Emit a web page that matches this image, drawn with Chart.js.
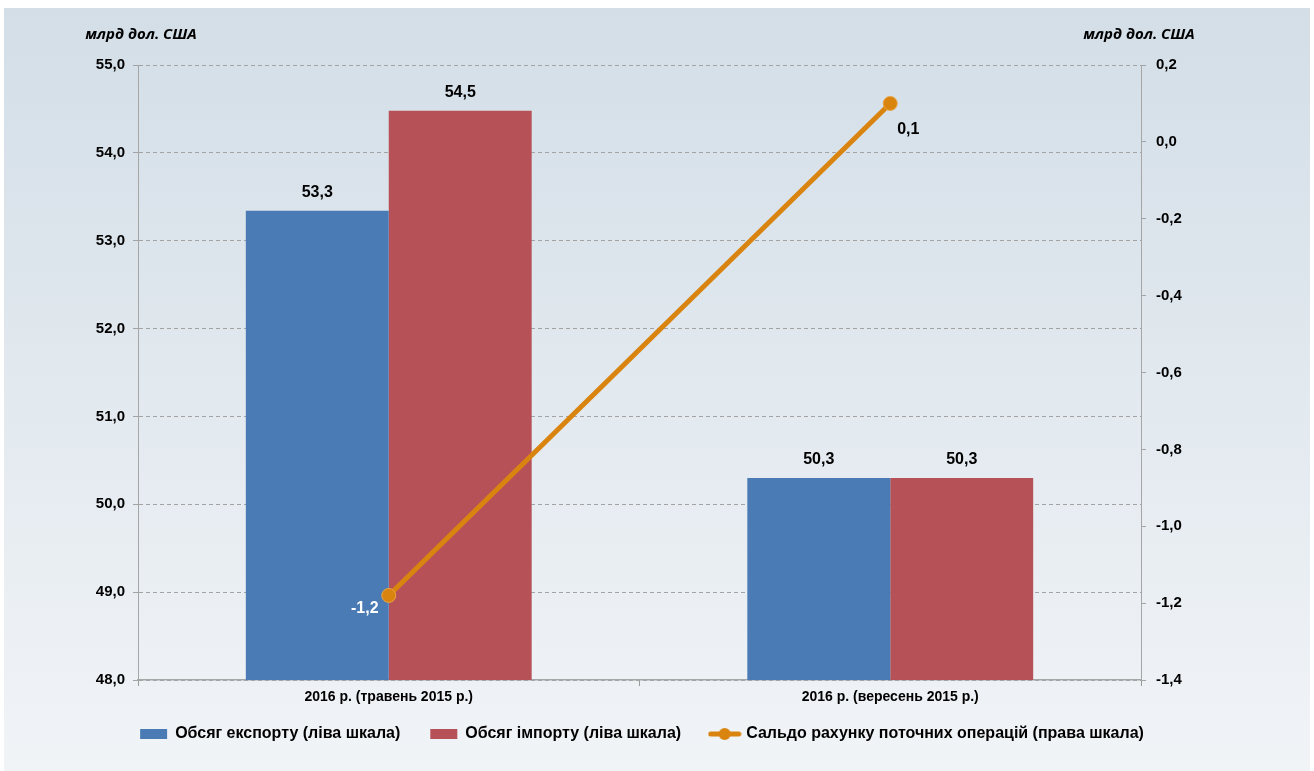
<!DOCTYPE html>
<html>
<head>
<meta charset="utf-8">
<script src="https://cdn.jsdelivr.net/npm/chart.js@4"></script>
<style>
  body { margin: 0; background: #fff; }
  #wrap { width: 1314px; height: 771px; }
</style>
</head>
<body>
<div id="wrap"><canvas id="myChart" width="1314" height="771"></canvas></div>
<script>
// Дані діаграми
const categories = ["2016 р. (травень 2015 р.)", "2016 р. (вересень 2015 р.)"];
const exportValues = [53.34, 50.3];
const importValues = [54.48, 50.3];
const balanceValues = [-1.18, 0.1];
const seriesNames = [
  "Обсяг експорту (ліва шкала)",
  "Обсяг імпорту (ліва шкала)",
  "Сальдо рахунку поточних операцій (права шкала)",
];
const axisUnit = "млрд дол. США";

const FONT = "'Liberation Sans Narrow', 'Liberation Sans', Arial, sans-serif";
const blue = "#4a7bb5";
const red = "#b65157";
const orange = "#da8410";

const fmt = (v) => v.toFixed(1).replace(".", ",");

// маркер лінії для легенди
const lineMarker = document.createElement("canvas");
lineMarker.width = 34;
lineMarker.height = 14;
(function () {
  const c = lineMarker.getContext("2d");
  c.strokeStyle = orange;
  c.lineWidth = 5;
  c.lineCap = "round";
  c.beginPath();
  c.moveTo(3, 7);
  c.lineTo(31, 7);
  c.stroke();
  c.fillStyle = orange;
  c.beginPath();
  c.arc(17, 7, 6, 0, Math.PI * 2);
  c.fill();
})();

const background = {
  id: "background",
  beforeDraw(chart) {
    const c = chart.ctx;
    c.save();
    c.fillStyle = "#fff";
    c.fillRect(0, 0, chart.width, chart.height);
    const g = c.createLinearGradient(0, 8, 0, chart.height);
    g.addColorStop(0, "#d3dee7");
    g.addColorStop(1, "#f1f4f7");
    c.fillStyle = g;
    c.fillRect(4, 8, chart.width - 8, chart.height - 8);
    c.restore();
  },
};

const labelsPlugin = {
  id: "labelsPlugin",
  afterDatasetsDraw(chart) {
    const c = chart.ctx;
    c.save();
    c.font = "bold 16px " + FONT;
    c.textAlign = "center";
    c.textBaseline = "middle";
    // підписи над стовпцями
    [0, 1].forEach((di) => {
      const ds = chart.data.datasets[di];
      chart.getDatasetMeta(di).data.forEach((el, i) => {
        c.fillStyle = "#000";
        c.fillText(fmt(ds.data[i]), el.x, el.y - 18);
      });
    });
    // підписи лінії
    const lineMeta = chart.getDatasetMeta(2).data;
    const p0 = lineMeta[0], p1 = lineMeta[1];
    c.fillStyle = "#fff";
    c.fillText(fmt(balanceValues[0]), p0.x - 24, p0.y + 13);
    c.fillStyle = "#000";
    c.fillText(fmt(balanceValues[1]), p1.x + 18, p1.y + 26);
    // одиниці виміру
    c.font = "italic bold 15px 'Open Sans', " + FONT;
    c.fillText(axisUnit, chart.scales.y.right + 3, 35);
    c.fillText(axisUnit, chart.scales.y1.left - 2, 35);
    c.restore();
  },
};

const ctx = document.getElementById("myChart").getContext("2d");

const myChart = new Chart(ctx, {
  data: {
    labels: categories,
    datasets: [
      {
        type: "bar",
        label: seriesNames[0],
        data: exportValues,
        backgroundColor: blue,
        yAxisID: "y",
        order: 1,
        categoryPercentage: 0.57,
        barPercentage: 1,
      },
      {
        type: "bar",
        label: seriesNames[1],
        data: importValues,
        backgroundColor: red,
        yAxisID: "y",
        order: 1,
        categoryPercentage: 0.57,
        barPercentage: 1,
      },
      {
        type: "line",
        label: seriesNames[2],
        data: balanceValues,
        borderColor: orange,
        backgroundColor: orange,
        borderWidth: 5,
        pointRadius: 7,
        pointBackgroundColor: orange,
        pointBorderColor: "#e9a443",
        pointBorderWidth: 1,
        yAxisID: "y1",
        order: 0,
      },
    ],
  },
  options: {
    responsive: false,
    animation: false,
    layout: {
      padding: { top: 65, left: 0, right: 30, bottom: 19 },
    },
    plugins: {
      tooltip: { enabled: false },
      legend: {
        position: "bottom",
        labels: {
          color: "#000",
          font: { size: 16, weight: "bold", family: FONT },
          usePointStyle: true,
          pointStyleWidth: 27,
          boxHeight: 10,
          padding: 30,
          generateLabels(chart) {
            return chart.data.datasets.map((ds, i) => ({
              text: ds.label,
              fillStyle: i < 2 ? ds.backgroundColor : orange,
              strokeStyle: i < 2 ? ds.backgroundColor : orange,
              lineWidth: 0,
              pointStyle: i < 2 ? "rect" : lineMarker,
              datasetIndex: i,
              fontColor: "#000",
            }));
          },
        },
      },
    },
    scales: {
      x: {
        offset: true,
        grid: {
          offset: true,
          drawOnChartArea: false,
          color: "#999",
          tickLength: 6,
        },
        border: { color: "#a6a6a6", width: 1.5 },
        ticks: {
          color: "#000",
          font: { size: 14, weight: "bold", family: FONT },
          padding: 3,
          maxRotation: 0,
        },
        afterFit(scale) {
          // підписи заходять у верхній відступ легенди, тому без обрізання
          scale.height = 16;
          scale._computeLabelArea = () => null;
        },
      },
      y: {
        position: "left",
        min: 48,
        max: 55,
        grid: {
          color: "#a3a3a3",
          tickLength: 5,
        },
        border: { color: "#a6a6a6", width: 1, dash: [4, 3] },
        ticks: {
          stepSize: 1,
          color: "#000",
          padding: 8,
          font: { size: 15, weight: "bold", family: FONT },
          callback: (v) => fmt(v),
        },
        afterFit(scale) {
          scale.width = 138;
        },
      },
      y1: {
        position: "right",
        min: -1.4,
        max: 0.2,
        grid: {
          drawOnChartArea: false,
          color: "#a3a3a3",
          tickLength: 5,
        },
        border: { color: "#a6a6a6", width: 1 },
        ticks: {
          stepSize: 0.2,
          color: "#000",
          padding: 10,
          font: { size: 15, weight: "bold", family: FONT },
          callback: (v) => fmt(v),
        },
        afterFit(scale) {
          scale.width = 143;
        },
      },
    },
  },
  plugins: [background, labelsPlugin],
});
</script>
</body>
</html>
